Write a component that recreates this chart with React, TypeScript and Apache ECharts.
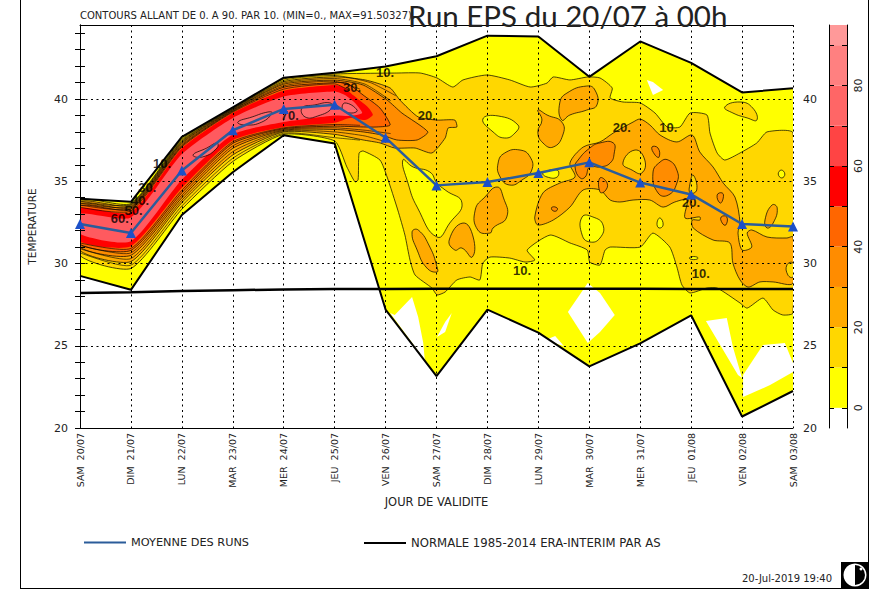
import React, { useEffect, useRef } from "react";
import * as echarts from "echarts";

type P = [number, number];

const days = ["SAM  20/07","DIM  21/07","LUN  22/07","MAR  23/07","MER  24/07","JEU  25/07","VEN  26/07","SAM  27/07","DIM  28/07","LUN  29/07","MAR  30/07","MER  31/07","JEU  01/08","VEN  02/08","SAM  03/08"];
const meanRuns = [32.4,31.85,35.65,38.1,39.4,39.65,37.65,34.75,34.95,35.5,36.15,34.92,34.2,32.4,32.25];
const normale = [28.2,28.25,28.33,28.38,28.42,28.45,28.45,28.47,28.47,28.47,28.47,28.47,28.45,28.45,28.45];
const envMax = [33.93,33.75,37.7,39.5,41.3,41.6,41.98,42.6,43.85,43.8,41.35,43.5,42.2,40.4,40.65];
const envMin = [29.25,28.4,32.95,35.55,37.8,37.3,27.2,23.15,27.2,25.8,23.75,25.15,26.85,20.7,22.25];

// ridge contours, days 0 to 5: upper and lower edge of each level
const u10 = [33.85,33.65,37.55,39.45,41.22,41.52];
const u20 = [33.75,33.55,37.42,39.4,41.05,41.35];
const u30 = [33.62,33.42,37.3,39.33,40.9,41.15];
const u40 = [33.5,33.3,37.15,39.25,40.72,41.0];
const u50 = [33.35,33.1,37.0,39.15,40.5,40.85];
const u60 = [33.02,32.8,36.65,38.85,40.15,40.45];
const d60 = [31.8,31.35,35.1,37.85,38.6,39.0];
const d50 = [31.35,31.05,34.6,37.5,38.3,38.55];
const d40 = [31.18,30.8,34.3,37.3,38.2,38.35];
const d30 = [31.0,30.5,34.0,37.0,38.1,38.15];
const d20 = [30.8,30.12,33.7,36.6,38.0,37.85];
const d10 = [30.5,29.7,33.3,36.2,37.85,37.45];

// intermediate contour lines of the ridge
const extraLines: P[][] = [
  [[0,33.8],[1,33.6],[2,37.48],[3,39.42],[4,41.13],[5,41.43],[5.7,41.0],[6.2,40.2]],
  [[0,33.68],[1,33.48],[2,37.36],[3,39.36],[4,40.97],[5,41.25],[5.6,40.9],[6.1,39.9]],
  [[0,33.56],[1,33.36],[2,37.22],[3,39.29],[4,40.8],[5,41.08],[5.5,40.6]],
  [[0,33.42],[1,33.2],[2,37.08],[3,39.2],[4,40.6],[5,40.92],[5.3,40.5]],
  [[0,30.65],[1,29.9],[2,33.5],[3,36.4],[4,37.92],[5,37.65],[5.5,37.5]],
  [[0,30.9],[1,30.3],[2,33.85],[3,36.8],[4,38.05],[5,38.0],[5.6,37.75],[6.0,37.4]],
  [[0,31.1],[1,30.65],[2,34.15],[3,37.15],[4,38.15],[5,38.25],[5.6,38.1],[6.1,37.9]],
  [[0,31.25],[1,30.92],[2,34.45],[3,37.4],[4,38.25],[5,38.45],[5.5,38.4]],
];

const trace10: P[] = [[6.22,41.58],[6.68,41.58],[7.01,41.28],[7.32,40.73],[7.52,41.16],[7.99,41.46],[8.44,41.16],[8.84,40.73],[9.17,40.97],[9.29,41.34],[9.62,41.16],[9.97,41.34],[10.21,41.28],[10.45,40.67],[10.41,40.06],[10.66,39.82],[11.0,39.76],[11.29,39.15],[11.53,38.3],[11.78,38.3],[11.98,39.15],[12.31,39.03],[12.37,37.93],[12.51,36.72],[12.66,36.29],[12.96,36.72],[13.29,37.33],[13.49,38.0],[14,37.93],[14,26.99],[13.8,26.87],[13.61,27.17],[13.41,27.9],[13.1,27.29],[12.96,27.6],[12.51,28.51],[12.31,28.51],[11.98,28.21],[11.82,28.69],[11.72,29.79],[11.58,31.0],[11.25,31.85],[11.0,31.0],[10.41,31.0],[10.31,30.82],[10.21,29.91],[10.01,30.09],[9.96,30.82],[9.62,31.25],[9.23,31.73],[8.78,30.82],[8.93,30.21],[8.74,30.09],[8.44,30.33],[8.05,30.39],[7.91,30.03],[7.85,29.0],[7.66,29.18],[7.4,29.0],[7.17,28.27],[7.01,28.09],[6.91,28.51],[6.58,29.3],[6.48,30.21],[6.38,31.73],[6.24,33.25],[6.03,35.26],[5.89,36.29],[5.56,36.84],[5.48,36.72],[5.46,35.08],[5.4,34.96],[5.24,35.87]];
const nose20: P[] = [[5.6,41.16],[6.09,40.67],[6.28,39.94],[6.64,38.91],[7.01,38.72],[7.36,38.72],[7.4,38.3],[7.23,38.24],[7.17,37.63],[6.91,36.72],[6.58,37.02],[6.18,37.02],[5.89,37.33],[5.56,37.51]];
const nose30: P[] = [[5.56,40.85],[6.03,39.94],[6.32,39.15],[6.83,38.0],[6.62,37.51],[6.22,37.51],[5.93,37.81],[5.56,38.0]];
const nose40: P[] = [[5.24,40.97],[5.56,40.24],[5.89,39.45],[6.09,38.42],[5.83,38.3],[5.56,38.3]];
const nose50: P[] = [[5.2,40.67],[5.36,40.24],[5.65,39.51],[5.75,39.03],[5.6,38.72],[5.3,38.85]];
const nose60: P[] = [[5.2,40.24],[5.4,39.76],[5.54,39.15],[5.3,38.97]];

const main20: P[] = [[8.93,32.83],[9.09,34.29],[9.42,34.89],[9.72,35.26],[9.62,36.11],[9.88,37.08],[10.21,37.39],[10.47,37.93],[10.86,38.6],[11.0,38.78],[11.19,38.42],[11.39,37.81],[11.72,37.39],[12.02,37.81],[12.17,36.78],[12.43,35.87],[12.63,34.89],[12.86,34.04],[12.96,32.46],[12.92,31.85],[13.0,30.82],[13.19,31.0],[13.1,31.85],[13.19,32.04],[13.49,31.61],[13.88,31.55],[14,31.61],[14,28.81],[13.61,28.88],[13.35,28.88],[13.12,28.57],[12.96,29.0],[12.82,30.03],[12.76,31.25],[12.43,31.43],[12.04,32.16],[12.02,32.64],[12.17,32.64],[12.17,32.83],[11.88,32.77],[11.92,33.86],[11.68,33.74],[11.45,33.43],[11.19,33.86],[10.86,33.86],[10.6,33.74],[10.41,33.86],[10.21,34.47],[9.88,34.47],[9.62,33.43],[9.29,32.64],[8.99,32.34]];

const blobsYellow: P[][] = [
  [[6.34,36.29],[6.44,34.89],[6.62,33.43],[7.01,31.61],[7.26,32.46],[7.5,33.68],[7.17,34.47],[7.01,34.89],[6.87,35.56],[6.54,35.87]],
  [[7.91,38.78],[8.21,38.97],[8.6,38.42],[8.54,37.93],[8.34,37.63],[8.11,38.0]],
  [[9.09,35.5],[9.37,35.68],[9.37,35.26],[9.17,35.26]],
  [[9.86,32.83],[10.07,32.83],[10.27,32.34],[10.21,31.55],[10.01,31.31],[9.86,31.73]],
  [[13.71,35.44],[13.77,35.68],[13.84,35.44],[13.78,35.2]],
  [[11.33,32.46],[11.39,32.77],[11.45,32.34],[11.37,32.16]],
  [[11.98,30.39],[12.12,30.39],[12.12,30.27],[11.98,30.27]],
];
const blobsGold: P[][] = [
  [[12.66,39.51],[12.96,39.82],[13.21,39.45],[13.29,38.72],[13.1,38.85],[12.82,39.15]],
];
const holesGold: P[][] = [
  [[10.66,36.11],[10.9,36.9],[11.09,36.29],[11.03,35.5],[10.84,35.68]],
  [[11.98,34.89],[12.04,35.38],[12.11,34.47],[11.98,34.29]],
  [[13.88,29.91],[14,30.03],[14,29.18],[13.9,29.3]],
];
const blobs20: P[][] = [
  [[9.42,39.76],[9.56,40.36],[9.95,40.79],[10.11,40.55],[10.15,39.64],[9.95,39.33],[9.62,39.03],[9.46,38.72]],
  [[8.99,39.33],[9.17,39.03],[9.46,38.6],[9.48,37.81],[9.29,37.08],[9.09,37.33],[8.99,38.0],[9.07,38.72]],
  [[8.21,36.11],[8.34,36.72],[8.64,36.9],[8.84,36.47],[8.87,35.68],[8.68,35.08],[8.44,34.77],[8.25,35.26]],
  [[7.76,33.25],[7.95,34.04],[8.19,34.65],[8.31,34.04],[8.38,32.83],[8.11,32.16],[8.05,31.85],[7.81,32.04]],
  [[7.25,31.43],[7.52,32.46],[7.72,31.61],[7.7,30.39],[7.5,30.94],[7.36,30.82]],
  [[6.52,31.91],[6.64,32.04],[6.87,31.0],[7.01,29.79],[7.01,29.48],[6.81,29.73],[6.62,30.82]],
  [[13.45,32.65],[13.59,33.56],[13.69,33.37],[13.61,32.46],[13.49,32.16]],
];
const blobs30: P[][] = [
  [[9.72,35.87],[9.78,36.29],[10.01,37.02],[10.21,37.33],[10.47,37.33],[10.49,36.72],[10.41,36.11],[10.21,35.87],[10.01,35.87],[9.92,35.26],[9.82,35.2]],
  [[11.25,35.5],[11.39,36.17],[11.55,36.29],[11.72,35.68],[11.72,34.89],[11.55,34.16],[11.35,34.29]],
  [[11.23,37.08],[11.35,37.02],[11.37,36.47],[11.29,36.6]],
  [[12.51,34.16],[12.61,34.29],[12.63,33.98],[12.57,33.68]],
  [[12.59,32.83],[12.7,32.83],[12.68,32.34],[12.61,32.46]],
  [[9.27,33.43],[9.37,33.37],[9.35,33.19],[9.27,33.25]],
  [[10.21,35.2],[10.35,34.89],[10.31,34.41],[10.21,34.35]],
];
const blobs70: P[][] = [
  [[3.1,38.6],[3.38,38.91],[3.69,39.21],[3.77,39.15],[3.57,38.6],[3.24,38.42]],
  [[4.36,39.45],[4.61,39.64],[4.91,39.76],[4.95,39.45],[4.67,38.97],[4.42,38.91]],
  [[2.22,36.6],[2.49,37.02],[2.69,37.33],[2.69,37.02],[2.41,36.48]],
  [[5.2,39.76],[5.44,39.33],[5.34,39.15],[5.16,39.33]],
];
const holesWhite: P[][] = [
  [[6.18,26.87],[6.52,27.96],[6.64,26.75],[6.74,25.17],[6.77,24.13],[6.09,26.99]],
  [[7.01,25.53],[7.17,26.44],[7.3,26.99],[7.17,25.84]],
  [[9.97,28.81],[10.21,28.21],[10.5,26.87],[10.21,25.84],[9.97,25.17],[9.58,27.05]],
  [[9.19,25.41],[9.33,25.59],[9.5,24.98],[9.37,25.1]],
  [[12.29,26.51],[12.7,26.69],[12.82,24.92],[13.0,23.04],[12.92,23.22],[12.57,25.05]],
  [[13.02,21.88],[13.02,23.22],[13.41,25.05],[13.84,25.17],[14,23.95],[14,23.4],[13.55,22.61]],
  [[11.13,41.16],[11.25,41.03],[11.45,40.55],[11.25,40.24]],
];

const contourLabels = ["10.","30.","20.","10.","30.","40.","50.","60.","70.","20.","10.","20.","10.","10."];
const labelDay = [5.99,5.34,6.81,1.61,1.32,1.18,1.05,0.78,4.12,10.64,11.55,12.0,8.68,12.19];
const labelTemp = [41.64,40.73,38.97,36.11,34.6,33.86,33.2,32.75,38.97,38.24,38.24,33.68,29.6,29.42];

const barEdges = [-5,0,10,20,30,40,50,60,70,80,90,95];
const barColors = ["#ffffff","#ffff00","#ffd700","#ffaa00","#ff8c00","#ff6600","#ff0000","#ff4444","#ff6666","#ff8080","#ff9999"];
const barTicks = [0,10,20,30,40,50,60,70,80,90];
const barLabels = [0,20,40,60,80];
const tempTicks = [20,21,22,23,24,25,26,27,28,29,30,31,32,33,34,35,36,37,38,39,40,41,42,43,44];
const tempLabels = [20,25,30,35,40];

const STROKE_FONT = "DejaVu Sans";
const YELLOW = barColors[1], GOLD = barColors[2], C20 = barColors[3], C30 = barColors[4], C40 = barColors[5], C50 = barColors[6];
const C60 = "#ff5a5f", C70 = "#ff6a6e";

type Shape = { pts: P[]; fill: string; stroke?: string; smooth: number };
const upper = (a: number[]): P[] => a.map((v, i) => [i, v] as P);
const lower = (a: number[]): P[] => a.map((v, i) => [i, v] as P).reverse();
const many = (list: P[][], fill: string, stroke = "#000", smooth = 0.5): Shape[] => list.map((pts) => ({ pts, fill, stroke, smooth }));

const shapes: Shape[] = [
  { pts: [...upper(envMax), ...lower(envMin)], fill: YELLOW, smooth: 0 },
  ...many(holesWhite, "#ffffff", "none", 0),
  { pts: [...upper(u10), ...trace10, ...lower(d10)], fill: GOLD, stroke: "#000", smooth: 0.2 },
  ...many(blobsYellow, YELLOW),
  ...many(blobsGold, GOLD),
  { pts: [...upper(u20), ...nose20, ...lower(d20)], fill: C20, stroke: "#000", smooth: 0.2 },
  { pts: main20, fill: C20, stroke: "#000", smooth: 0.3 },
  ...many(holesGold, GOLD),
  ...many(blobs20, C20),
  { pts: [...upper(u30), ...nose30, ...lower(d30)], fill: C30, stroke: "#000", smooth: 0.2 },
  ...many(blobs30, C30),
  { pts: [...upper(u40), ...nose40, ...lower(d40)], fill: C40, stroke: "#000", smooth: 0.2 },
  { pts: [...upper(u50), ...nose50, ...lower(d50)], fill: C50, stroke: "none", smooth: 0.2 },
  { pts: [...upper(u60), ...nose60, ...lower(d60)], fill: C60, stroke: "none", smooth: 0.2 },
  ...many(blobs70, C70),
];

export default function App() {
  const ref = useRef<HTMLDivElement>(null);
  useEffect(() => {
    document.body.style.margin = "0";
    const chart = echarts.init(ref.current!, undefined, { renderer: "svg" });
    const axisLine = { show: true, lineStyle: { color: "#000", width: 1 } };
    const dotted = { show: true, lineStyle: { color: "#000", width: 1, type: [2, 3.5] as any } };
    const tickLabel = { fontFamily: STROKE_FONT, fontSize: 11, color: "#222" };
    chart.setOption({
      animation: false,
      backgroundColor: "#fff",
      grid: [
        { left: 80, top: 25, width: 713, height: 403, show: false },
        { left: 829, top: 25, width: 18, height: 403, show: false },
      ],
      xAxis: [
        {
          type: "value", gridIndex: 0, min: 0, max: 14, interval: 1, z: 5, position: "bottom",
          axisLine, axisTick: { show: false }, splitLine: dotted,
          axisLabel: { rotate: 90, margin: 5, fontFamily: STROKE_FONT, fontSize: 9.5, color: "#222", formatter: (v: number) => days[v] ?? "", hideOverlap: false },
          name: "JOUR DE VALIDITE", nameLocation: "middle", nameGap: 67,
          nameTextStyle: { fontFamily: STROKE_FONT, fontSize: 11.5, color: "#222" },
        },
        { type: "value", gridIndex: 0, min: 0, max: 14, position: "top", z: 5, axisLine, axisTick: { show: false }, axisLabel: { show: false }, splitLine: { show: false } },
        { type: "value", gridIndex: 1, min: 0, max: 1, show: false },
      ],
      yAxis: [
        {
          type: "value", gridIndex: 0, min: 20, max: 44.5, interval: 5, position: "left", z: 5,
          axisLine, splitLine: { show: false },
          axisTick: { show: true, inside: true, length: 5, customValues: tempTicks, lineStyle: { color: "#000" } },
          axisLabel: { ...tickLabel, margin: 12, customValues: tempLabels },
          name: "TEMPERATURE", nameLocation: "middle", nameGap: 43,
          nameTextStyle: { fontFamily: STROKE_FONT, fontSize: 10.5, color: "#222" },
        },
        {
          type: "value", gridIndex: 0, min: 20, max: 44.5, interval: 5, position: "right", z: 5,
          axisLine, splitLine: { show: false },
          axisTick: { show: true, inside: true, length: 5, customValues: tempTicks, lineStyle: { color: "#000" } },
          axisLabel: { ...tickLabel, margin: 10, customValues: tempLabels },
        },
        {
          type: "value", gridIndex: 1, min: -5, max: 95, position: "left", z: 5,
          axisLine, splitLine: { show: false },
          axisTick: { show: true, inside: true, length: 5, customValues: barTicks, lineStyle: { color: "#000" } },
          axisLabel: { show: false },
        },
        {
          type: "value", gridIndex: 1, min: -5, max: 95, position: "right", z: 5,
          axisLine, splitLine: { show: false },
          axisTick: { show: true, inside: true, length: 5, customValues: barTicks, lineStyle: { color: "#000" } },
          axisLabel: { ...tickLabel, margin: 6, rotate: 90, customValues: barLabels },
        },
        {
          type: "value", gridIndex: 0, min: 20, max: 40, interval: 5, position: "left", z: 5,
          axisLine: { show: false }, axisTick: { show: false }, axisLabel: { show: false }, splitLine: { show: false },
        },
        {
          type: "value", gridIndex: 0, min: 20, max: 44.5, interval: 5, position: "left", z: 5,
          axisLine: { show: false }, axisTick: { show: false }, axisLabel: { show: false }, splitLine: dotted,
        },
      ],
      legend: [
        { left: 79, top: 532, data: ["MOYENNE DES RUNS"], icon: "rect", itemWidth: 42, itemHeight: 2, itemStyle: { color: "#2b5c9a" }, textStyle: { fontFamily: STROKE_FONT, fontSize: 11.3, color: "#222" } },
        { left: 359, top: 532, data: ["NORMALE 1985-2014 ERA-INTERIM PAR AS"], icon: "rect", itemWidth: 42, itemHeight: 2, itemStyle: { color: "#000" }, textStyle: { fontFamily: STROKE_FONT, fontSize: 11.7, color: "#222" } },
      ],
      series: [
        {
          type: "custom", coordinateSystem: "cartesian2d", xAxisIndex: 0, yAxisIndex: 0, clip: true, z: 2, silent: true,
          data: shapes.map((s) => s.pts[0]),
          renderItem: (p: any, api: any) => {
            const s = shapes[p.dataIndex];
            return {
              type: "polygon",
              shape: { points: s.pts.map((q) => api.coord(q)), smooth: s.smooth },
              style: { fill: s.fill, stroke: s.stroke ?? "none", lineWidth: 0.7 },
            };
          },
        },
        {
          type: "custom", coordinateSystem: "cartesian2d", xAxisIndex: 0, yAxisIndex: 0, clip: true, z: 3, silent: true,
          data: extraLines.map((l) => l[0]),
          renderItem: (p: any, api: any) => ({
            type: "polyline",
            shape: { points: extraLines[p.dataIndex].map((q) => api.coord(q)), smooth: 0.2 },
            style: { fill: "none", stroke: "#000", lineWidth: 0.6 },
          }),
        },
        {
          type: "custom", coordinateSystem: "cartesian2d", xAxisIndex: 2, yAxisIndex: 2, z: 2, silent: true,
          data: barColors.map((_, i) => [0, barEdges[i]]),
          renderItem: (p: any, api: any) => {
            const i = p.dataIndex;
            const a = api.coord([0, barEdges[i]]);
            const b = api.coord([1, barEdges[i + 1]]);
            return { type: "rect", shape: { x: a[0], y: b[1], width: b[0] - a[0], height: a[1] - b[1] }, style: { fill: barColors[i] } };
          },
        },
        { type: "line", name: "envMax", xAxisIndex: 0, yAxisIndex: 0, z: 6, symbol: "none", data: envMax.map((v, i) => [i, v]), lineStyle: { color: "#000", width: 2 } },
        { type: "line", name: "envMin", xAxisIndex: 0, yAxisIndex: 0, z: 6, symbol: "none", data: envMin.map((v, i) => [i, v]), lineStyle: { color: "#000", width: 2 } },
        { type: "line", name: "NORMALE 1985-2014 ERA-INTERIM PAR AS", xAxisIndex: 0, yAxisIndex: 0, z: 6, symbol: "none", data: normale.map((v, i) => [i, v]), lineStyle: { color: "#000", width: 2.5 }, itemStyle: { color: "#000" } },
        {
          type: "scatter", xAxisIndex: 0, yAxisIndex: 0, z: 7, symbolSize: 0, silent: true,
          data: contourLabels.map((t, i) => ({ value: [labelDay[i], labelTemp[i]], name: t })),
          label: { show: true, position: "inside", formatter: (p: any) => p.name, fontFamily: "Liberation Sans", fontWeight: "bold", fontSize: 13, color: "#000" },
          labelLayout: { hideOverlap: false },
        },
        {
          type: "line", name: "MOYENNE DES RUNS", xAxisIndex: 0, yAxisIndex: 0, z: 8, symbol: "triangle", symbolSize: 10, showAllSymbol: true,
          data: meanRuns.map((v, i) => [i, v]), lineStyle: { color: "#2b5c9a", width: 2.5 }, itemStyle: { color: "#1c50c8" },
        },
      ],
      graphic: [
        { type: "line", z: 20, shape: { x1: 20.5, y1: 0, x2: 20.5, y2: 588 }, style: { stroke: "#000", lineWidth: 1 } },
        { type: "line", z: 20, shape: { x1: 868.5, y1: 0, x2: 868.5, y2: 588 }, style: { stroke: "#000", lineWidth: 1 } },
        { type: "line", z: 20, shape: { x1: 20, y1: 588.5, x2: 869, y2: 588.5 }, style: { stroke: "#000", lineWidth: 1 } },
        { type: "text", z: 20, style: { text: "CONTOURS ALLANT DE 0. A 90. PAR 10. (MIN=0., MAX=91.50327).", x: 80, y: 10, fontFamily: STROKE_FONT, fontSize: 10, fill: "#222" } },
        { type: "text", z: 20, style: { text: "Run EPS du 20/07 à 00h", x: 408, y: 0, fontFamily: "Lato", fontSize: 29.5, fill: "#222" } },
        { type: "text", z: 20, style: { text: "20-Jul-2019 19:40", x: 742, y: 573, fontFamily: STROKE_FONT, fontSize: 10, fill: "#222" } },
        { type: "rect", z: 20, shape: { x: 841, y: 562, width: 27, height: 26 }, style: { fill: "#000" } },
        { type: "circle", z: 21, shape: { cx: 855, cy: 575, r: 11.5 }, style: { fill: "#fff" } },
        { type: "sector", z: 22, shape: { cx: 855, cy: 575, r: 10, r0: 0, startAngle: -Math.PI / 2, endAngle: Math.PI / 2 }, style: { fill: "#000" } },
        { type: "circle", z: 23, shape: { cx: 861, cy: 569, r: 1.5 }, style: { fill: "#fff" } },
      ],
    });
    return () => chart.dispose();
  }, []);
  return <div ref={ref} style={{ position: "absolute", left: 0, top: 0, width: 883, height: 606 }} />;
}
